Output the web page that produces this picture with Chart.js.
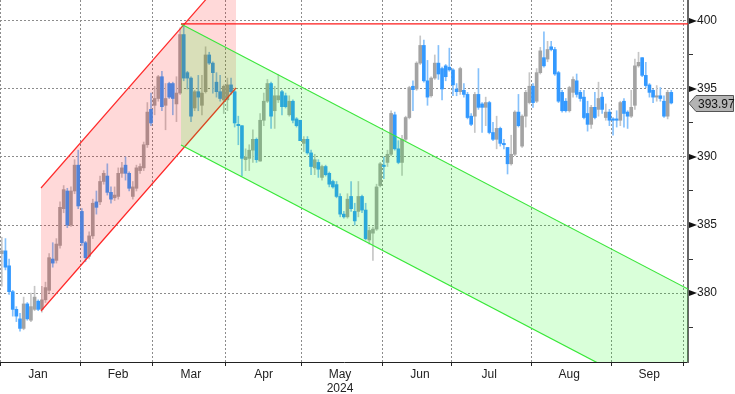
<!DOCTYPE html>
<html>
<head>
<meta charset="utf-8">
<script src="https://cdn.jsdelivr.net/npm/chart.js@4.4.1/dist/chart.umd.min.js"></script>
<style>
  html, body { margin: 0; padding: 0; background: #fff; }
  canvas { display: block; }
</style>
</head>
<body>
<canvas id="chart" width="735" height="394"></canvas>
<script>
// daily candles, Jan..Sep 2024 (one entry per trading day)
const opens = [
  382.9,383.1,382.0,380.1,378.8,378.1,377.4,379.2,378.0,378.8,379.4,378.8,379.5,380.2,382.5,382.4,383.5,386.2,387.5,385.0,387.5,389.4,
  386.0,383.7,382.7,384.2,386.7,386.7,388.2,388.6,387.4,387.0,387.1,388.8,389.4,388.8,387.1,387.7,389.0,389.2,390.9,393.5,
  393.8,394.3,395.9,393.8,395.4,395.4,393.9,394.7,399.0,396.2,395.8,393.6,394.8,393.8,394.8,397.5,396.9,395.5,394.8,394.2,
  394.2,395.3,394.8,392.4,392.3,389.8,389.9,390.5,391.3,389.7,392.7,394.1,395.4,393.4,394.2,394.8,394.5,393.1,394.1,392.8,392.7,
  391.0,391.3,390.3,389.2,389.6,388.5,389.3,388.8,388.2,387.97,387.1,385.8,385.6,387.1,386.0,386.0,387.1,386.1,383.9,384.4,384.7,387.9,
  389.4,389.6,390.2,393.1,390.6,389.6,391.3,392.9,395.2,395.0,396.9,398.2,395.6,394.5,395.8,396.9,396.5,396.7,396.6,
  396.4,395.0,394.8,394.9,394.6,393.0,393.0,394.6,393.9,393.65,394.0,391.8,391.3,392.1,391.0,390.7,389.5,390.2,393.3,390.8,393.0,394.0,
  395.2,394.1,396.2,397.3,397.2,398.1,397.9,396.2,394.75,394.1,393.4,394.75,395.6,394.75,394.4,393.2,392.4,393.65,393.5,394.4,392.9,393.3,
  392.8,392.8,392.7,394.1,393.3,393.0,393.8,396.7,397.3,396.0,395.3,394.9,394.4,394.5,394.1,393.0,394.75
];
const highs = [
  384.1,384.0,382.5,380.2,379.0,378.5,379.7,379.3,380.0,380.5,379.5,380.5,380.8,382.9,383.7,384.0,386.7,387.9,387.7,387.8,389.8,390.5,
  386.2,383.8,384.5,386.9,387.5,388.6,389.0,389.5,387.8,387.8,389.2,389.6,390.0,388.9,388.2,389.4,389.5,391.1,394.0,394.7,
  395.2,396.0,396.3,395.4,395.5,395.5,395.9,399.5,399.8,396.3,395.9,394.9,396.0,396.0,398.1,397.7,397.0,396.2,396.0,395.3,
  395.8,395.8,394.9,393.0,392.3,390.6,390.9,392.0,391.4,393.2,394.7,395.7,395.5,395.2,396.05,394.9,394.7,394.5,394.2,392.9,392.7,
  391.5,391.5,390.5,390.2,389.8,389.4,389.4,388.9,388.3,388.2,387.3,386.0,387.3,388.2,386.6,388.2,387.2,386.6,384.85,384.85,388.0,389.6,
  390.0,390.5,393.4,393.3,391.2,391.6,393.0,395.2,395.6,397.0,398.9,398.6,397.1,395.9,397.5,398.2,396.6,396.8,398.0,
  396.5,395.4,396.6,395.4,394.75,393.2,394.75,396.5,394.0,394.4,394.1,392.55,393.0,392.2,391.3,390.7,391.6,393.4,394.6,393.1,394.9,396.2,
  395.4,396.5,398.06,399.2,398.5,398.5,398.06,396.3,394.9,394.3,395.2,395.9,396.1,394.9,394.9,394.1,393.8,394.75,395.5,394.75,393.9,393.5,
  392.9,393.4,394.1,394.3,393.4,394.9,397.2,397.7,397.3,396.96,395.4,395.0,395.25,395.1,394.5,394.9,394.9
];
const lows = [
  380.5,381.7,379.9,378.3,377.9,377.2,377.3,378.0,377.9,378.7,378.7,378.6,379.3,380.0,381.9,382.2,383.3,385.9,384.8,384.9,387.3,386.2,
  383.5,382.3,382.5,384.0,385.8,386.5,388.0,387.2,386.6,386.8,386.9,388.5,388.3,387.5,386.9,387.5,388.8,389.0,390.7,392.3,
  393.1,394.1,393.4,392.0,394.3,393.1,392.6,394.6,395.6,395.0,392.6,393.4,393.4,393.1,394.7,396.8,394.7,394.4,394.1,393.2,
  393.4,394.6,392.2,390.9,388.6,389.0,389.0,389.6,389.6,389.7,392.3,394.0,392.1,392.1,394.0,393.1,393.6,393.0,392.5,392.2,391.2,
  390.4,390.2,388.7,388.7,388.5,388.3,388.6,387.8,387.7,387.0,385.6,385.5,385.5,386.0,385.0,385.6,385.9,383.9,383.6,382.4,384.6,387.8,
  388.4,389.3,390.1,390.5,389.5,388.65,391.2,392.8,393.4,394.9,396.8,395.5,393.8,394.4,395.7,395.7,394.2,395.6,396.3,
  394.5,394.5,394.6,394.4,392.8,392.3,391.8,393.5,391.8,392.3,391.7,391.2,390.6,390.8,390.6,388.75,389.4,390.1,392.2,390.7,392.2,393.9,
  393.65,394.0,396.1,396.6,397.0,397.8,396.0,394.0,393.3,393.3,393.3,394.4,394.4,394.1,392.8,391.9,392.1,392.8,393.0,393.2,392.7,392.3,
  391.6,392.2,392.3,392.2,392.1,392.9,393.5,396.6,395.9,395.1,394.4,394.0,394.1,394.1,392.9,392.8,393.9
];
const closes = [
  383.1,381.9,380.1,378.8,378.3,377.4,379.2,378.1,379.0,379.7,378.8,379.5,380.4,382.6,382.2,383.6,386.3,387.6,385.0,387.5,389.4,386.4,
  383.7,382.6,384.2,386.6,386.3,388.2,388.8,387.4,386.9,387.2,388.8,389.2,388.8,387.7,387.8,389.2,389.3,390.9,393.3,392.5,
  394.3,395.9,393.7,394.3,394.4,394.3,394.7,399.0,395.8,395.8,393.0,394.8,394.4,394.7,397.5,396.9,396.2,394.8,394.3,395.2,
  395.3,394.8,392.5,392.3,389.9,390.0,390.5,391.3,389.8,392.7,394.1,395.4,393.0,394.5,394.5,393.7,393.7,394.1,392.7,392.3,391.2,
  391.3,390.3,389.3,389.8,389.1,389.3,388.7,388.0,387.8,387.1,385.8,385.6,386.9,386.2,385.3,387.1,386.1,384.0,384.6,384.7,387.8,389.5,
  389.3,390.2,393.2,390.6,389.6,391.3,392.9,395.1,394.95,396.9,398.2,395.6,394.4,395.8,396.9,396.1,395.0,395.9,396.4,
  395.3,394.8,396.5,394.6,392.9,392.4,394.6,393.65,393.65,394.0,391.8,391.3,392.1,391.0,390.9,389.5,390.2,393.3,392.3,393.0,394.75,395.2,
  394.0,396.2,397.8,396.7,397.9,397.9,396.1,394.1,393.4,393.4,395.1,395.7,394.6,394.3,392.9,392.4,393.65,392.9,394.3,393.5,393.3,392.7,
  392.7,392.7,394.0,393.2,393.0,393.65,396.7,396.96,396.0,395.25,394.75,394.4,394.5,394.3,393.0,394.75,393.97
];

// x axis: month names and the index of each month's first candle
const months = ['Jan', 'Feb', 'Mar', 'Apr', ['May', '2024'], 'Jun', 'Jul', 'Aug', 'Sep', ''];
const monthStarts = [0, 22, 42, 62, 83, 105, 124, 146, 168, 188];

// y axis
const yTicks = [377.5, 380, 382.5, 385, 387.5, 390, 392.5, 395, 397.5, 400];
const yLabels = [380, 385, 390, 395, 400];

// trend drawings (candle index, price)
const redUpper = [{x: 10.77, y: 387.72}, {x: 64.37, y: 404.11}];
const redLower = [{x: 10.77, y: 378.68}, {x: 64.37, y: 395.07}];
const greenUpper = [{x: 49.25, y: 399.78}, {x: 188.6, y: 380.29}];
const greenLower = [{x: 49.25, y: 390.88}, {x: 188.6, y: 371.39}];
const resistance = [{x: 49.25, y: 399.78}, {x: 188.6, y: 399.78}];

const FONT = "'Liberation Sans', Arial, sans-serif";
const UP = '#a3a3a3', UP_WICK = '#c6c6c6';
const DOWN = '#3399ff', DOWN_WICK = '#86c1fb';

const isUp = closes.map((c, i) => c >= opens[i]);
const bodies = closes.map((c, i) => ({x: i, y: [opens[i], c]}));
const wicks = closes.map((c, i) => ({x: i, y: [lows[i], highs[i]]}));

// no automatic label padding around the plot
const noPad = s => { s.paddingLeft = 0; s.paddingRight = 0; s.paddingTop = 0; s.paddingBottom = 0; };

const axisMarks = {
  id: 'axisMarks',
  afterDraw(chart) {
    const {ctx, chartArea} = chart;
    const y = chart.scales.y;
    const x0 = chartArea.right + 1;
    ctx.save();
    // arrow markers on the price axis
    ctx.fillStyle = '#111';
    yLabels.forEach(v => {
      const py = y.getPixelForValue(v);
      ctx.beginPath();
      ctx.moveTo(x0, py - 3);
      ctx.lineTo(x0 + 8, py);
      ctx.lineTo(x0, py + 3);
      ctx.closePath();
      ctx.fill();
    });
    // last price tag
    const last = closes[closes.length - 1];
    const py = Math.round(y.getPixelForValue(last)) + 0.5;
    ctx.beginPath();
    ctx.moveTo(x0, py);
    ctx.lineTo(x0 + 7, py - 8);
    ctx.lineTo(chart.width - 1.5, py - 8);
    ctx.lineTo(chart.width - 1.5, py + 8);
    ctx.lineTo(x0 + 7, py + 8);
    ctx.closePath();
    ctx.fillStyle = '#b4b4b4';
    ctx.fill();
    ctx.strokeStyle = '#555';
    ctx.lineWidth = 1;
    ctx.stroke();
    ctx.fillStyle = '#111';
    ctx.font = '12px ' + FONT;
    ctx.textBaseline = 'middle';
    ctx.fillText(last.toFixed(2), x0 + 9, py + 1);
    ctx.restore();
  }
};

const lineBase = {
  type: 'line', borderWidth: 1.2, pointRadius: 0, pointHoverRadius: 0,
  pointHitRadius: 0, pointBorderWidth: 0, fill: false
};

new Chart(document.getElementById('chart'), {
  type: 'bar',
  data: {
    datasets: [
      {
        data: wicks,
        backgroundColor: isUp.map(u => u ? UP_WICK : DOWN_WICK),
        barThickness: 1,
        minBarLength: 1,
        grouped: false,
        borderWidth: 0,
        order: 5
      },
      {
        data: bodies,
        backgroundColor: isUp.map(u => u ? UP : DOWN),
        barThickness: 3,
        minBarLength: 1,
        grouped: false,
        borderWidth: 0,
        order: 4
      },
      { ...lineBase, data: redUpper, borderColor: '#ff2a2a', backgroundColor: 'rgba(255,0,0,0.15)', fill: '+1', order: 2 },
      { ...lineBase, data: redLower, borderColor: '#ff2a2a', order: 2 },
      { ...lineBase, data: greenUpper, borderColor: '#3ce63c', backgroundColor: 'rgba(0,255,0,0.15)', fill: '+1', order: 1 },
      { ...lineBase, data: greenLower, borderColor: '#3ce63c', order: 1 },
      { ...lineBase, data: resistance, borderColor: '#ff1a1a', order: 0 }
    ]
  },
  options: {
    responsive: false,
    animation: false,
    layout: { padding: 0, autoPadding: false },
    plugins: { legend: { display: false }, tooltip: { enabled: false } },
    scales: {
      x: {
        type: 'linear',
        min: -0.5,
        max: 188.6,
        offset: false,
        afterBuildTicks: s => { s.ticks = monthStarts.map(v => ({value: v - 0.5})); },
        afterFit: s => { s.height = 32; noPad(s); },
        grid: { offset: false, color: '#8c8c8c', lineWidth: 1, tickColor: '#222', tickLength: 4 },
        border: { display: true, color: '#222', width: 1, dash: [2, 2] },
        ticks: {
          autoSkip: false, maxRotation: 0, minRotation: 0,
          labelOffset: 38, padding: 1,
          color: '#222', font: { family: FONT, size: 12, lineHeight: 1.2 },
          callback: (v, i) => months[i]
        }
      },
      y: {
        position: 'right',
        min: 374.93,
        max: 401.54,
        beginAtZero: false,
        afterBuildTicks: s => { s.ticks = yTicks.map(v => ({value: v})); },
        afterFit: s => { s.width = 47; noPad(s); },
        grid: {
          lineWidth: 1,
          tickLength: 5,
          color: c => yLabels.includes(c.tick.value) ? '#8c8c8c' : 'rgba(0,0,0,0)',
          tickColor: c => yLabels.includes(c.tick.value) ? 'rgba(0,0,0,0)' : '#333'
        },
        border: { display: true, color: '#666', width: 2, dash: [2, 2] },
        ticks: {
          padding: 4,
          color: '#1a1a1a',
          font: { family: FONT, size: 12 },
          callback: v => yLabels.includes(v) ? String(v) : ''
        }
      }
    }
  },
  plugins: [axisMarks]
});
</script>
</body>
</html>
